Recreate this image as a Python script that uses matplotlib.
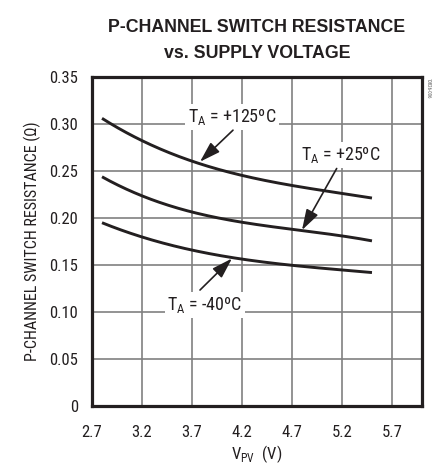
import matplotlib.pyplot as plt
import matplotlib as mpl
import numpy as np

mpl.rcParams.update({'font.family': ['Roboto Condensed', 'Liberation Sans', 'DejaVu Sans'],
                     'mathtext.fontset': 'custom',
                     'mathtext.rm': 'Roboto Condensed'})

# supply voltage (V)
vpv = [2.8, 3.2, 3.7, 4.2, 4.7, 5.2, 5.5]
# P-channel switch resistance (ohm) per temperature
r_125 = [0.306, 0.283, 0.260, 0.246, 0.234, 0.227, 0.221]
r_25 = [0.245, 0.221, 0.2085, 0.196, 0.187, 0.181, 0.176]
r_m40 = [0.195, 0.180, 0.166, 0.156, 0.150, 0.1447, 0.142]

xticks = [2.7, 3.2, 3.7, 4.2, 4.7, 5.2, 5.7]
yticks = [0, 0.05, 0.10, 0.15, 0.20, 0.25, 0.30, 0.35]
ytick_labels = ["0", "0.05", "0.10", "0.15", "0.20", "0.25", "0.30", "0.35"]

ink = '#231f20'

fig = plt.figure(figsize=(4.33, 4.65), dpi=100)
ax = fig.add_axes([0.2125, 0.127, 0.762, 0.707])

for r in [r_125, r_25, r_m40]:
    xs = np.array(vpv)
    # smooth cubic through the read points
    coef = np.polyfit(xs, r, 3)
    xx = np.linspace(xs[0], xs[-1], 200)
    ax.plot(xx, np.polyval(coef, xx), color=ink, linewidth=2.1, solid_capstyle='butt')

ax.set_xlim(2.7, 6.0)
ax.set_ylim(0, 0.35)
ax.set_xticks(xticks)
ax.set_xticklabels([f"{t:.1f}" for t in xticks])
ax.set_yticks(yticks)
ax.set_yticklabels(ytick_labels)
ax.tick_params(length=0, labelsize=12, colors=ink)
ax.tick_params(axis='x', pad=14)
ax.tick_params(axis='y', pad=10)
ax.grid(True, color='#808080', linewidth=1.2)
for s in ax.spines.values():
    s.set_linewidth(2.3)
    s.set_color(ink)

ax.set_ylabel("P-CHANNEL SWITCH RESISTANCE (Ω)", fontsize=11.5, color=ink, labelpad=6)
ax.set_xlabel(r"V$_{\mathregular{PV}}$  (V)", fontsize=12, color=ink, labelpad=2)

fig.text(0.5935, 1 - 27 / 465, "P-CHANNEL SWITCH RESISTANCE", fontsize=12.8, family='Liberation Sans',
         fontweight='bold', color=ink, ha='center', va='center')
fig.text(0.5935, 1 - 53 / 465, "vs. SUPPLY VOLTAGE", fontsize=12.8, family='Liberation Sans',
         fontweight='bold', color=ink, ha='center', va='center')

box = dict(facecolor='white', edgecolor='none', pad=2)
arrow = dict(arrowstyle='-|>,head_length=0.7,head_width=0.22', color=ink, lw=1.2,
             mutation_scale=18, shrinkA=0, shrinkB=0)

ax.text(4.10, 0.3078, r"T$_{\mathregular{A}}$ = +125ºC", ha='center', va='center', fontsize=13, color=ink, bbox=box)
ax.annotate("", xy=(3.78, 0.260), xytext=(4.11, 0.2936), arrowprops=arrow)

ax.text(5.19, 0.267, r"T$_{\mathregular{A}}$ = +25ºC", ha='center', va='center', fontsize=13, color=ink, bbox=box)
ax.annotate("", xy=(4.80, 0.1872), xytext=(5.147, 0.2528), arrowprops=arrow)

ax.text(3.83, 0.1074, r"T$_{\mathregular{A}}$ = -40ºC", ha='center', va='center', fontsize=13, color=ink, bbox=box)
ax.annotate("", xy=(4.10, 0.157), xytext=(3.78, 0.1234), arrowprops=arrow)

fig.text(0.988, 0.81, "10826-006", rotation=270, fontsize=3.5, color='#555555', ha='center', va='center')

fig.savefig("out.png", dpi=100)
